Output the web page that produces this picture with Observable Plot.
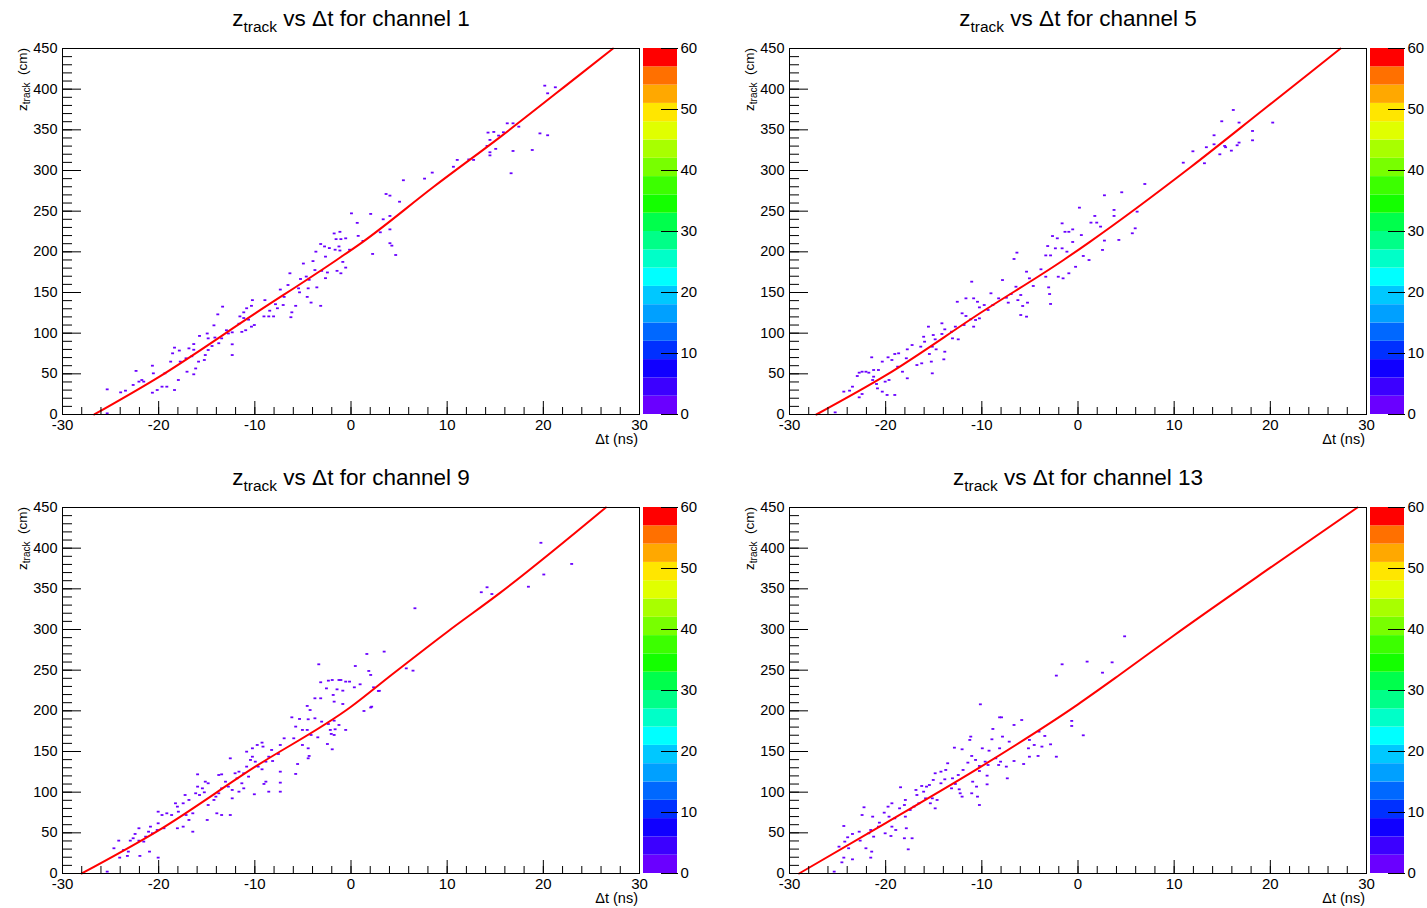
<!DOCTYPE html>
<html><head><meta charset="utf-8">
<script src="https://cdn.jsdelivr.net/npm/d3@7"></script>
<script src="https://cdn.jsdelivr.net/npm/@observablehq/plot@0.6"></script>
<style>
html,body{margin:0;padding:0;background:#fff;}
#root{position:relative;width:1427px;height:908px;overflow:hidden;}
#root svg{position:absolute;overflow:visible;}
</style></head><body><div id="root"></div>
<script>
const FONT = "'Liberation Sans', Arial, Helvetica, sans-serif";

// ---- data: [Δt (ns), z_track (cm)] occupied histogram cells ----
const ch1Points = [[0.1,246.7],[0.7,235],[0.8,219],[-1.7,222],[-1.1,224],[-0.5,216],[-1.0,215],[-1.5,215],[-3.1,209],[-2.7,206],[-2.2,204],[-1.6,202],[-1.2,206],[-1.1,201],[-0.1,202],[-0.8,187],[-2.6,193.5],[-3.6,199.6],[-3.9,188],[-4.9,185],[-3.7,177],[-3.0,176],[-2.4,174],[-1.4,176],[-1.0,173],[-0.5,180],[-2.6,167],[-4.6,169],[-5.2,166],[-4.3,165],[-6.3,173],[-6.5,158.6],[-5.4,154.5],[-4.4,154.5],[-3.5,155.7],[-5.3,149.6],[-4.5,144],[-4.1,137],[-3.1,133],[-5.7,133],[-6.1,125],[-6.2,119],[-7.3,153],[-6.9,144],[-7.0,134],[-7.6,130],[-7.8,135],[-8.4,127],[-8.9,140],[-9.0,120],[-8.5,120],[-8.0,120],[-10.0,109.4],[-10.2,140],[-10.3,133],[-10.8,130],[-11.1,125],[-11.5,120],[-11.1,118],[-10.6,116],[-10.3,107.4],[-10.9,103],[-11.3,101],[-11.6,111],[-12.3,100.4],[-12.7,99],[-13.3,132],[-13.8,122.5],[-14.2,109],[-12.9,103],[-13.4,93],[-13.7,87],[-12.3,85.7],[-12.3,72.5],[-14.9,99],[-14.8,93],[-15.7,96],[-14.1,94],[-14.4,83.6],[-14.8,78.7],[-15.1,72.5],[-15.2,66.4],[-16.3,86],[-16.8,80.7],[-16.3,79],[-16.5,71],[-15.8,64.4],[-17.1,68.5],[-16.1,56],[-16.3,48.8],[-17.0,52],[-18.3,81.6],[-17.8,78],[-18.5,74.6],[-17.7,64.4],[-17.9,41.8],[-18.3,29.5],[-18.7,64.4],[-19.3,50],[-19.6,33.6],[-19.1,33.6],[-20.6,59.4],[-20.5,50],[-20.1,29.5],[-20.6,26.2],[-21.7,41.8],[-21.5,39.8],[-22.0,39.8],[-22.3,53],[-22.6,35.7],[-23.4,28.7],[-23.9,26.6],[-25.3,30.3],[-25.3,0.8],
  [20.2,403.7],[21.3,401.7],[20.5,394.3],[19.7,345],[20.5,342.7],[18.9,324.6],[16.9,323.4],[16.7,296],[16.3,357.4],[16.9,357.4],[17.5,353.3],[14.3,346],[14.9,346.8],[15.9,346.4],[15.4,342.3],[14.5,337],[14.2,329.6],[15.1,326],[14.5,321.8],[14.5,318],[11.1,312.4],[12.3,313],[12.8,312.4],[10.7,304],[8.5,296.8],[7.7,289.4],[5.5,287.4],[3.7,270.5],[4.1,268.5],[5.1,261],[2.1,246],[4.1,243.5],[3.4,239.4],[4.1,227],[3.1,223.4],[4.1,210],[4.3,207],[4.7,195.5],[2.3,196.8],[1.3,212.8]];

const ch5Points = [[0.2,253.7],[-1.6,234.4],[-1.3,224],[-0.9,224],[-0.5,227],[-2.6,218.8],[-2.1,216],[0.4,220],[-0.5,211.5],[-3.1,206.5],[-2.3,203.7],[-1.6,203.7],[-1.1,199.6],[-2.8,195],[-3.3,195],[0.6,194.3],[1.2,189.3],[-6.6,190.6],[-6.3,198.4],[-0.2,181],[-0.9,173],[-1.5,166.8],[-2.0,168.8],[-3.8,177.9],[-5.3,175],[-5.0,166.8],[-3.3,168.8],[-4.6,157.4],[-3.0,155.7],[-2.9,147.5],[-2.8,135.3],[-7.8,164.7],[-5.9,146.3],[-6.4,156.5],[-6.9,147.5],[-5.2,136.9],[-6.2,140],[-5.7,132.8],[-5.3,119.7],[-5.9,121.7],[-7.4,143],[-7.2,136.9],[-8.2,142.2],[-8.8,134],[-9.0,148.4],[-9.3,127.9],[-9.7,134],[-10.2,131.1],[-11.0,162.7],[-11.6,142.2],[-10.8,142.2],[-10.4,138],[-12.0,123.8],[-11.6,120.5],[-11.1,116.4],[-10.6,115.6],[-10.2,117.6],[-10.8,107.4],[-11.8,109.4],[-12.5,138],[-12.7,107.4],[-13.1,101.2],[-12.4,91.8],[-13.0,93],[-13.8,104.1],[-14.1,98.4],[-14.1,111.5],[-15.5,107.4],[-15.0,97.1],[-14.8,91.8],[-14.7,79.5],[-13.8,76.6],[-13.9,67.2],[-15.1,82.8],[-16.0,95],[-15.9,88.9],[-16.3,82.8],[-15.4,73.8],[-16.2,62.3],[-15.2,64.4],[-15.1,50],[-16.7,60.2],[-17.2,84.8],[-17.7,79.5],[-17.8,68.5],[-18.2,52],[-17.7,43.9],[-18.6,74.6],[-19.0,73.8],[-19.3,66.4],[-18.7,58.2],[-19.7,69.7],[-20.3,64.4],[-20.7,54.1],[-21.2,54.1],[-20.0,39.8],[-19.6,41.8],[-19.0,23.4],[-19.8,23.4],[-20.3,27.5],[-20.8,31.5],[-21.4,69.7],[-21.7,50.8],[-22.0,52],[-22.4,52],[-22.7,50.8],[-22.9,46.7],[-21.2,45.9],[-21.3,41.8],[-20.9,36.9],[-22.4,24.6],[-22.7,20.5],[-23.4,33.6],[-23.7,28.7],[-24.3,27.5],[-25.2,2],
  [16.2,373.8],[15.0,359.9],[16.8,358.3],[20.3,358.3],[14.2,342.7],[18.2,348],[18.2,336.5],[16.8,333.7],[16.6,330.4],[15.3,329.6],[15.4,328],[16.0,323.8],[14.8,319.3],[14.2,331.6],[13.4,328],[12.0,323],[11.0,309],[13.2,308.3],[7.0,282.8],[4.6,272.6],[2.8,268.9],[3.8,250.9],[3.8,243.5],[6.2,248.8],[1.8,243.5],[1.4,235.3],[2.0,235.3],[2.4,230.4],[6.0,228.3],[5.7,222.2],[4.3,214],[2.8,213.2],[2.6,201.7]];

const ch9Points = [[3.5,272.2],[1.7,269.3],[-3.3,256.6],[0.5,254.5],[1.9,248.4],[2.1,243.5],[-3.1,234.5],[-2.3,236.5],[-1.9,237.3],[-1.2,237.3],[-1.0,237.3],[-0.5,235.3],[-0.1,235.3],[-1.4,225.8],[-0.8,224.2],[1.0,232],[0.4,228.3],[-2.5,227],[-3.7,214.8],[-3.1,214.8],[-1.8,218.9],[-1.7,210.7],[-0.8,207.8],[2.2,204.5],[1.4,199.2],[2.9,223.8],[2.4,228.3],[-4.5,205.4],[-4.2,200.4],[-6.1,191.4],[-5.3,189.4],[-4.4,189],[-3.7,190.2],[-3.0,186.1],[-2.3,183.2],[-1.7,187.3],[-1.2,182],[-0.5,175.9],[-1.6,176.7],[-2.1,175.9],[-2.0,171],[-1.7,169.7],[-5.7,180],[-5.0,175.9],[-4.5,175.9],[-4.1,169.7],[-3.4,166.8],[-5.9,165.6],[-5.0,157.4],[-4.4,153.3],[-2.4,158.6],[-1.9,152.1],[-4.3,143.9],[-4.4,141],[-5.5,134],[-5.7,121.8],[-7.3,157.4],[-6.9,165.6],[-7.5,146.3],[-8.2,151.3],[-8.5,143],[-8.1,137.7],[-8.8,136.9],[-9.2,160.3],[-9.1,155.4],[-9.7,157.4],[-10.2,153.3],[-10.8,149.2],[-10.2,143],[-9.9,136.9],[-9.6,130.8],[-9.2,127.5],[-8.8,112.3],[-7.3,124.6],[-7.3,111.1],[-7.3,100],[-8.5,100],[-9.0,109.5],[-10.4,139],[-10.8,130.8],[-11.1,122.6],[-10.6,118.5],[-11.6,124.6],[-12.0,122.6],[-11.8,116.4],[-11.3,110.3],[-11.1,104.1],[-11.6,100],[-10.0,96.8],[-12.5,141],[-13.4,121.3],[-13.7,120.5],[-13.0,112.3],[-12.7,106.2],[-12.3,102.1],[-12.3,91.8],[-13.4,104.1],[-13.7,98],[-14.0,93.9],[-14.2,89.8],[-15.9,121.3],[-15.1,112.3],[-14.8,110.3],[-15.4,104.1],[-15.2,99.2],[-15.7,95.9],[-16.1,98],[-15.9,106.2],[-14.8,83.6],[-14.9,65.2],[-13.9,73.4],[-13.4,71.3],[-12.5,71.3],[-16.8,89.8],[-17.2,95.9],[-18.2,85.7],[-18.0,81.6],[-17.4,85.7],[-17.9,75.4],[-18.6,71.3],[-17.1,71.3],[-16.4,73.4],[-16.8,65.2],[-16.4,50.8],[-17.4,57],[-18.0,55],[-19.1,73.4],[-19.6,71.3],[-20.0,75.4],[-20.0,61.1],[-19.4,55],[-20.1,52.9],[-20.6,48.8],[-21.0,50.8],[-20.8,57],[-21.3,44.7],[-21.5,38.6],[-22.0,55],[-22.4,48],[-22.6,42.7],[-22.9,39.8],[-22.0,39.8],[-20.9,26.3],[-20.0,18.9],[-21.9,21],[-23.1,26.3],[-23.6,28.3],[-24.1,39.8],[-24.6,30.4],[-24.0,18.9],[-23.2,21],[-25.3,1.7],
  [14.2,351.3],[13.6,345.2],[14.7,343],[6.7,325.5],[5.8,251.6],[6.5,248.8],[3.0,224],[2.1,203.5],[19.8,406],[18.5,352],[20.1,367],[23.0,380]];

const ch13Points = [[-1.6,256.6],[-2.2,242.7],[1.0,259.9],[3.6,259],[2.6,246.3],[-10.1,207.4],[-8.1,191.4],[-7.9,191.4],[-5.8,188.1],[-6.6,182],[-8.8,177.1],[-0.6,187],[-0.6,180.8],[0.6,169.3],[-11.1,167.7],[-11.2,163.6],[-7.8,167.7],[-7.1,161.5],[-8.1,153.3],[-8.9,164.4],[-2.8,158.2],[-3.7,155.4],[-4.5,157.4],[-5.0,163.6],[-5.1,153.3],[-3.4,168.5],[-4.0,173.8],[-12.8,154.1],[-12.0,152.1],[-9.9,153.3],[-9.2,150.4],[-8.5,141],[-8.0,136.9],[-8.2,132.8],[-7.4,130.8],[-7.3,116.4],[-6.6,137.7],[-5.6,134],[-5.0,143],[-4.1,143.9],[-2.2,143],[-11.0,143.9],[-11.4,135.7],[-10.6,139],[-10.2,131.6],[-9.6,136.9],[-9.3,132.8],[-9.4,119.7],[-9.4,109],[-10.2,125.4],[-10.9,112.3],[-10.5,106.2],[-11.0,98],[-10.4,93.9],[-10.2,83.6],[-11.9,126.7],[-12.4,120.5],[-13.0,116.4],[-12.7,109.5],[-13.1,104.1],[-12.3,102.9],[-12.2,98],[-12.0,93.9],[-13.5,134.9],[-13.7,126.7],[-14.2,124.6],[-14.8,122.6],[-13.8,115.2],[-14.2,110.3],[-15.0,114.4],[-15.4,108.2],[-16.2,107],[-15.7,106.2],[-16.0,100],[-16.8,102.1],[-16.7,95.9],[-15.8,91.8],[-15.1,91.8],[-14.6,89.8],[-15.3,85.7],[-14.8,79.5],[-16.5,85.7],[-17.0,81.6],[-17.4,77.5],[-17.9,89.8],[-18.0,83.6],[-18.5,79.5],[-17.9,69.3],[-17.8,55],[-18.4,105.4],[-19.3,85.7],[-19.7,81.6],[-20.1,74.2],[-19.6,69.3],[-19.0,67.2],[-19.3,57],[-18.9,52.9],[-19.4,45.5],[-18.0,42.7],[-17.2,42.7],[-17.6,29.1],[-20.0,48.8],[-20.7,57],[-21.3,69.3],[-20.6,61.9],[-21.5,52.9],[-21.7,48.8],[-21.2,44.7],[-22.2,80.8],[-22.4,71.3],[-22.7,50.8],[-23.4,48],[-22.6,39.8],[-22.0,30.4],[-21.4,26.3],[-21.5,18.9],[-23.9,43.9],[-24.3,57.8],[-24.2,38.6],[-23.8,30.4],[-24.8,32.4],[-24.3,18.9],[-23.4,16.8],[-24.5,13.1],[-25.3,1.7],[4.9,291]];

// fitted curves
const ch1Fit  = [[-26.7,0],[-20,46],[-10,124],[-1.5,190],[1.2,212],[8.6,280],[15.6,342],[23.7,417],[27.25,450]];
const ch5Fit  = [[-27.2,0],[-20,48],[-10,126],[-1.5,190],[1.2,212],[11.7,304],[19.3,375],[24,419],[27.3,450]];
const ch9Fit  = [[-28,0],[-20,53],[-10,131],[0,205],[4.3,245],[10,297],[15.5,345],[26.5,450]];
const ch13Fit = [[-29,0],[-20,62],[-10,132],[0,208],[4.3,244],[10,293],[20,376],[29.06,450]];

const xLabels = [-30,-20,-10,0,10,20,30];
const xMinor = [-30,-28,-26,-24,-22,-20,-18,-16,-14,-12,-10,-8,-6,-4,-2,0,2,4,6,8,10,12,14,16,18,20,22,24,26,28,30];
const yLabels = [0,50,100,150,200,250,300,350,400,450];
const yMinor = d3.range(0, 451, 10);
const zLabels = [0,10,20,30,40,50,60];
const paletteEdges = [0,3,6,9,12,15,18,21,24,27,30,33,36,39,42,45,48,51,54,57];
const paletteColors = ["#6a00ff","#3c00ff","#1000ff","#0030ff","#0068ff","#00a0ff","#00c8ff","#00ffff","#00ffc8","#00ff88","#00ff4c","#14ff00","#3cff00","#78ff00","#a8ff00","#e0ff00","#ffe600","#ffa800","#ff7000","#ff3000","#ff0000"];
const panelsInfo = [
  {ch: 1, pts: ch1Points, fit: ch1Fit, left: 0, top: 0},
  {ch: 5, pts: ch5Points, fit: ch5Fit, left: 727, top: 0},
  {ch: 9, pts: ch9Points, fit: ch9Fit, left: 0, top: 459},
  {ch: 13, pts: ch13Points, fit: ch13Fit, left: 727, top: 459}
];

// 20 bands 0-3, 3-6 ... 57-60; the top band (57-60) is pure red
const colorScale = {type: "threshold", domain: paletteEdges.slice(1), range: paletteColors.slice(0, 19).concat([paletteColors[20]])};
const fmt = d => String(d);
const blank = () => "";
const root = document.getElementById("root");

for (const p of panelsInfo) {
  const svg = Plot.plot({
    width: 713, height: 454,
    marginLeft: 62, marginRight: 74, marginTop: 48, marginBottom: 40,
    style: {fontFamily: FONT, fontSize: "14px", background: "transparent", color: "black"},
    x: {domain: [-30, 30]},
    y: {domain: [0, 450]},
    color: colorScale,
    marks: [
      Plot.rect(p.pts, {x1: d => d[0] - 0.15, x2: d => d[0] + 0.15, y1: d => d[1] - 1.1, y2: d => d[1] + 1.1, fill: () => 1}),
      Plot.line(p.fit, {x: d => d[0], y: d => d[1], stroke: "#ff0000", strokeWidth: 2, curve: "monotone-x"}),
      Plot.axisX(xMinor, {tickSize: -7, tickFormat: blank, label: null}),
      Plot.axisX(xLabels, {tickSize: -13, tickFormat: blank, label: null}),
      Plot.axisX(xLabels, {tickSize: 0, tickPadding: 5, tickFormat: fmt, fontSize: 15, label: null}),
      Plot.axisY(yMinor, {tickSize: -10, tickFormat: blank, label: null}),
      Plot.axisY(yLabels, {tickSize: -19, tickFormat: blank, label: null}),
      Plot.axisY(yLabels, {tickSize: 0, tickPadding: 5, tickFormat: fmt, fontSize: 14.5, label: null}),
      Plot.frame({stroke: "black"})
    ]
  });
  svg.style.left = p.left + "px";
  svg.style.top = p.top + "px";
  const s = d3.select(svg);
  const t = s.append("text").attr("x", 351).attr("y", 26).attr("text-anchor", "middle")
    .attr("font-size", 22.5).attr("fill", "black").style("white-space", "pre");
  t.append("tspan").text("z");
  t.append("tspan").attr("font-size", 15.5).attr("dy", 6).text("track");
  t.append("tspan").attr("dy", -6).text(" vs \u0394t for channel " + p.ch);
  const yl = s.append("text").attr("transform", "translate(27,48) rotate(-90)")
    .attr("text-anchor", "end").attr("font-size", 13.5).attr("fill", "black").style("white-space", "pre");
  yl.append("tspan").text("z");
  yl.append("tspan").attr("font-size", 10).attr("dy", 3).text("track");
  yl.append("tspan").attr("dy", -3).text("  (cm)");
  s.append("text").attr("x", 638).attr("y", 444).attr("text-anchor", "end")
    .attr("font-size", 14.5).attr("fill", "black").text("\u0394t (ns)");
  root.appendChild(svg);

  const bar = Plot.plot({
    width: 70, height: 454,
    marginLeft: 0, marginRight: 36, marginTop: 48, marginBottom: 40,
    style: {fontFamily: FONT, fontSize: "14px", background: "transparent", color: "black"},
    x: {domain: [0, 1], axis: null},
    y: {domain: [0, 60]},
    color: colorScale,
    marks: [
      Plot.rect(paletteEdges, {x1: 0, x2: 1, y1: d => d, y2: d => d + 3, fill: d => d + 1}),
      Plot.axisY(zLabels, {anchor: "right", tickSize: -17, tickFormat: blank, label: null}),
      Plot.axisY(zLabels, {anchor: "right", tickSize: 0, tickPadding: 3, tickFormat: fmt, fontSize: 15, label: null})
    ]
  });
  bar.style.left = (p.left + 643) + "px";
  bar.style.top = p.top + "px";
  root.appendChild(bar);
}
</script></body></html>
